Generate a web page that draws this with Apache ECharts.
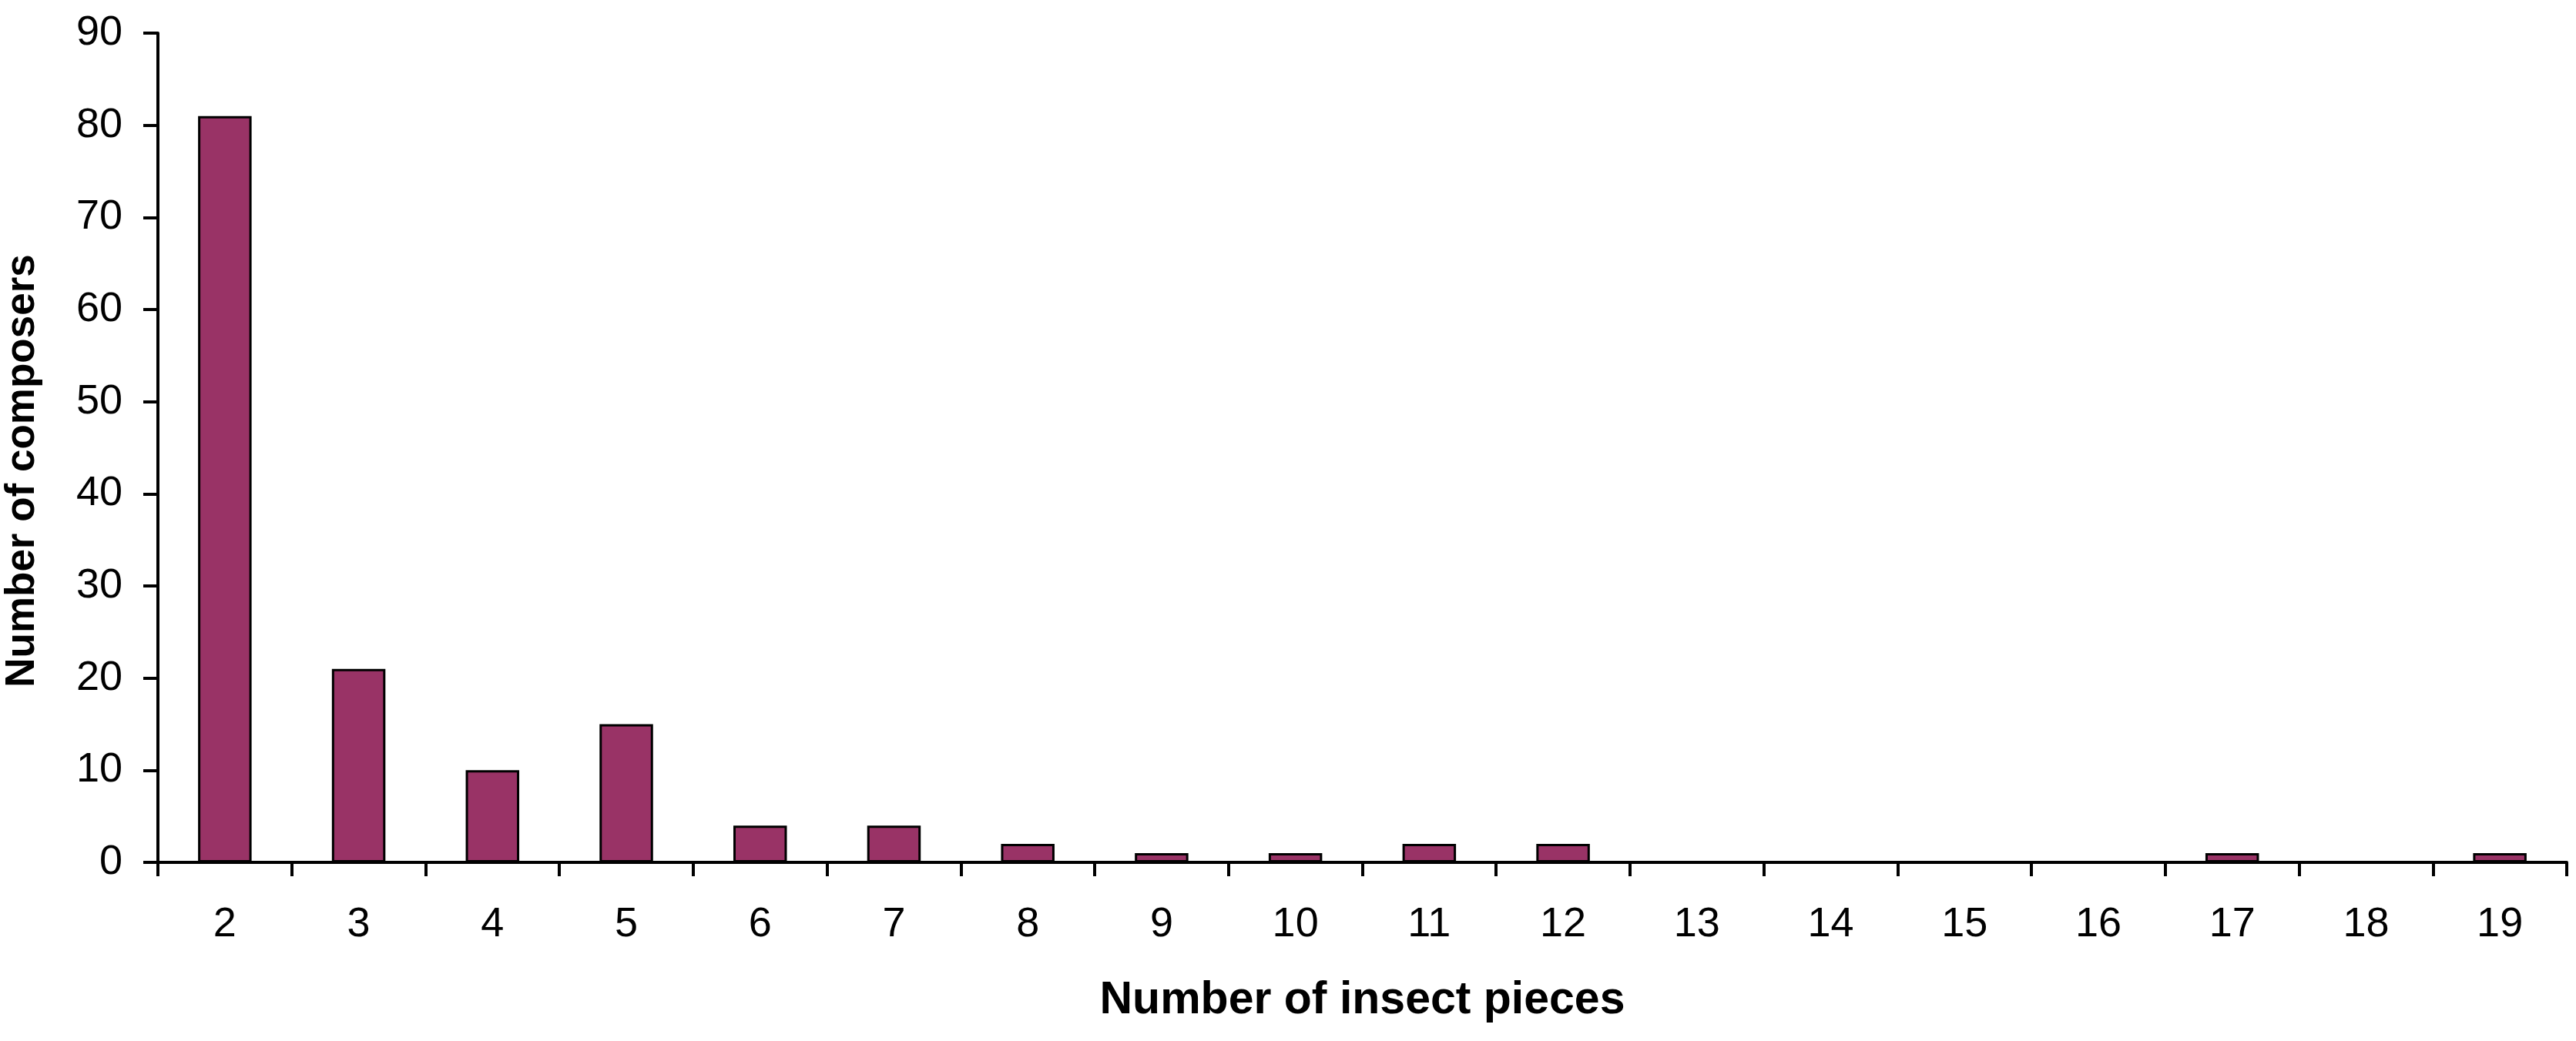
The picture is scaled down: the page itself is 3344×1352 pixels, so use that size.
<!DOCTYPE html>
<html>
<head>
<meta charset="utf-8">
<title>Number of insect pieces</title>
<script src="https://cdn.jsdelivr.net/npm/echarts@6/dist/echarts.min.js"></script>
<style>
  html, body { margin: 0; padding: 0; background: #fff; }
  #chart { width: 3344px; height: 1352px; }
</style>
</head>
<body>
<div id="chart"></div>
<script>
var pieces = ['2', '3', '4', '5', '6', '7', '8', '9', '10', '11', '12', '13', '14', '15', '16', '17', '18', '19']
var composers = [81, 21, 10, 15, 4, 4, 2, 1, 1, 2, 2, 0, 0, 0, 0, 1, 0, 1]
var yTicks = [0, 10, 20, 30, 40, 50, 60, 70, 80, 90]

var font = 'Liberation Sans, Arial, sans-serif'
var axisLine = { show: true, lineStyle: { color: '#000', width: 4 } }

var myChart = echarts.init(document.getElementById('chart'))

myChart.setOption({
  animation: false,
  backgroundColor: '#fff',
  grid: {
    left: 205,
    right: 12,
    top: 43,
    bottom: 232,
    containLabel: false,
    outerBoundsMode: 'none'
  },
  xAxis: {
    type: 'category',
    data: pieces,
    name: 'Number of insect pieces',
    nameLocation: 'middle',
    nameGap: 150,
    nameTextStyle: { fontFamily: font, fontSize: 59, fontWeight: 'bold', color: '#000' },
    axisLine: axisLine,
    axisTick: { show: true, length: 18, alignWithLabel: false, lineStyle: { color: '#000', width: 4 } },
    axisLabel: { margin: 54, fontFamily: font, fontSize: 54, color: '#000' },
    splitLine: { show: false }
  },
  yAxis: {
    type: 'value',
    min: yTicks[0],
    max: yTicks[yTicks.length - 1],
    interval: yTicks[1] - yTicks[0],
    name: 'Number of composers',
    nameLocation: 'middle',
    nameGap: 149,
    nameRotate: 90,
    nameTextStyle: { fontFamily: font, fontSize: 53, fontWeight: 'bold', color: '#000', padding: [0, 60, 0, 0] },
    axisLine: axisLine,
    axisTick: { show: true, length: 19, lineStyle: { color: '#000', width: 4 } },
    axisLabel: { margin: 46, fontFamily: font, fontSize: 54, color: '#000' },
    splitLine: { show: false }
  },
  series: [
    {
      name: 'Composers',
      type: 'bar',
      data: composers,
      barWidth: '40%',
      itemStyle: {
        color: '#993366',
        borderColor: '#000',
        borderWidth: 3
      }
    }
  ]
})
</script>
</body>
</html>
